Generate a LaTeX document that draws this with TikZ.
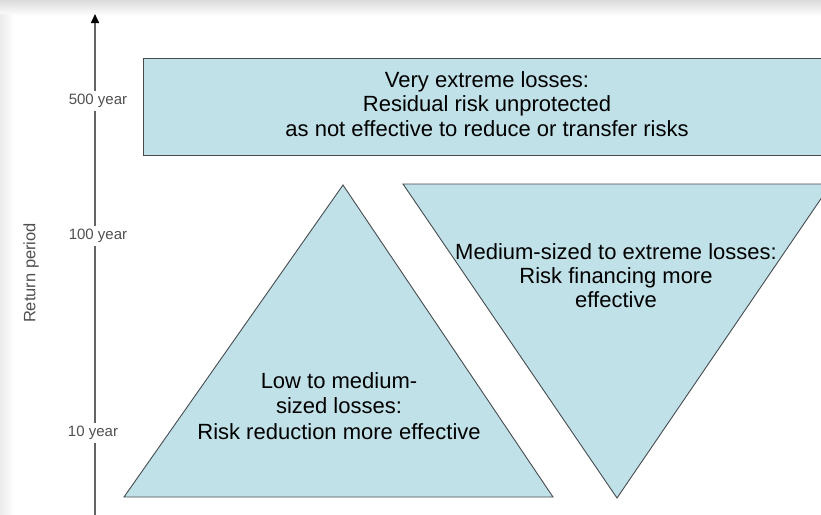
\documentclass[tikz,border=0pt]{standalone}
\usepackage{fontspec}
\setmainfont{Liberation Sans}
\usetikzlibrary{arrows.meta}
\definecolor{boxfill}{RGB}{192,225,232}
\definecolor{edge}{RGB}{70,75,80}
\definecolor{axisgray}{RGB}{100,100,100}
\tikzset{
  shape box/.style={fill=boxfill,draw=edge,line width=0.9pt},
  bigtext/.style={font=\fontsize{22}{24.5}\selectfont,align=center,text=black},
  ticklabel/.style={font=\fontsize{15}{17}\selectfont,text=axisgray!80!black,fill=white,inner sep=3pt},
  axisline/.style={draw=axisgray,line width=1.6pt,-{Triangle[length=9pt,width=8pt,color=black]}}
}
\begin{document}
\begin{tikzpicture}[x=1pt,y=-1pt]
\useasboundingbox (0,0) rectangle (821,514);
\clip (0,0) rectangle (821,514);
% screenshot shadow
\shade[top color=black!14,bottom color=white] (0,0) rectangle (821,16);
\shade[left color=black!8,right color=white] (0,14) rectangle (14,514);
% axis
\coordinate (axbot) at (95,516);
\coordinate (axtop) at (95,14);
\draw[axisline] (axbot) -- (axtop);
\node[ticklabel] (y500) at (98,101) {500 year};
\node[ticklabel] (y100) at (98,236) {100 year};
\node[ticklabel] (y10) at (93,433) {10 year};
\node[rotate=90,font=\fontsize{16.5}{18}\selectfont,text=axisgray!80!black] (rp) at (31,273) {Return period};
% top rectangle
\draw[shape box] (143,58) rectangle (830,155);
\node[bigtext] (top) at (487,104) {Very extreme losses:\\Residual risk unprotected\\as not effective to reduce or transfer risks};
% left triangle
\draw[shape box] (343,185) -- (553,497) -- (124,497) -- cycle;
\node[bigtext,font=\fontsize{22}{25.5}\selectfont] (low) at (339,406) {Low to medium-\\sized losses:\\Risk reduction more effective};
% inverted triangle
\draw[shape box] (403,184) -- (831,184) -- (617,498) -- cycle;
\node[bigtext,font=\fontsize{22}{24}\selectfont] (med) at (616,276) {Medium-sized to extreme losses:\\Risk financing more\\effective};
\end{tikzpicture}
\end{document}
